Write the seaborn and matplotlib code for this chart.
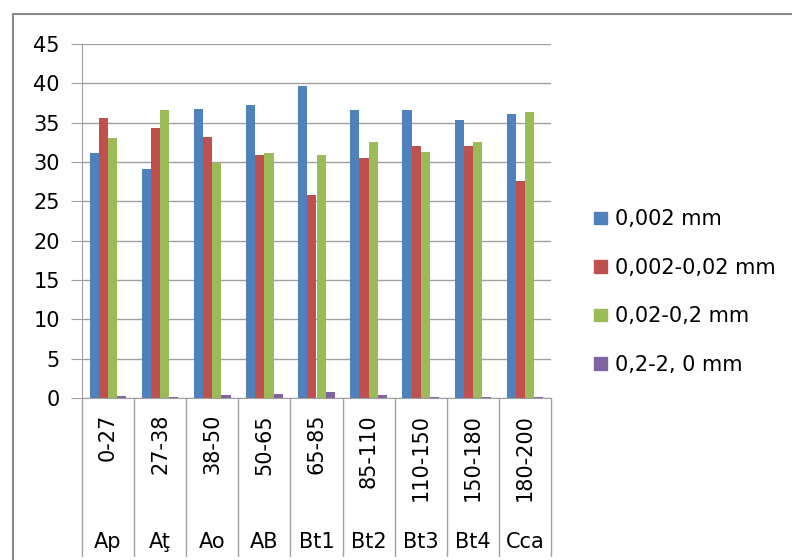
import pandas as pd
import matplotlib
matplotlib.use("Agg")
import matplotlib.pyplot as plt
import seaborn as sns

# data
depths = ['0-27', '27-38', '38-50', '50-65', '65-85', '85-110', '110-150', '150-180', '180-200']
horizons = ['Ap', 'Aţ', 'Ao', 'AB', 'Bt1', 'Bt2', 'Bt3', 'Bt4', 'Cca']
fractions = ['0,002 mm', '0,002-0,02 mm', '0,02-0,2 mm', '0,2-2, 0 mm']

clay = [31.2, 29.1, 36.7, 37.3, 39.6, 36.6, 36.6, 35.4, 36.1]
silt = [35.6, 34.3, 33.2, 30.9, 25.8, 30.5, 32.0, 32.0, 27.6]
sand = [33.0, 36.6, 29.9, 31.2, 30.9, 32.5, 31.3, 32.6, 36.4]
coarse = [0.2, 0.15, 0.35, 0.5, 0.7, 0.35, 0.15, 0.1, 0.15]

colors = ['#4F81BD', '#C0504D', '#9BBB59', '#8064A2']

rows = []
for frac, vals in zip(fractions, [clay, silt, sand, coarse]):
    for d, v in zip(depths, vals):
        rows.append({'depth': d, 'fraction': frac, 'value': v})
df = pd.DataFrame(rows)

sns.set_style("white")
plt.rcParams['font.family'] = ['DejaVu Sans']
plt.rcParams['text.color'] = 'black'
plt.rcParams['ytick.labelcolor'] = 'black'
FS = 15

fig = plt.figure(figsize=(7.92, 5.6), dpi=100)
ax = fig.add_axes([82/792, 1-398/560, (551-82)/792, (398-44)/560])

sns.barplot(data=df, x='depth', y='value', hue='fraction', hue_order=fractions,
            order=depths, palette=colors, width=0.7, saturation=1, ax=ax,
            errorbar=None, linewidth=0)

ax.set_xlim(-0.5, len(depths)-0.5)
ax.set_ylim(0, 45)
ax.set_yticks(range(0, 46, 5))
ax.yaxis.grid(True, color='#a0a0a0', linewidth=1)
ax.set_axisbelow(True)
for s in ['top', 'right']:
    ax.spines[s].set_visible(False)
ax.spines['left'].set_color('#a0a0a0')
ax.spines['bottom'].set_color('#a0a0a0')
ax.tick_params(axis='y', left=True, length=8, color='#a0a0a0', labelsize=FS,
               labelcolor='black', pad=8)
ax.set_xticks([])
ax.set_xlabel('')
ax.set_ylabel('')

# two-level category axis
trans = ax.get_xaxis_transform()
for i in range(len(depths) + 1):
    ax.plot([i-0.5, i-0.5], [0, -158/354], transform=trans, color='#a0a0a0',
            linewidth=1, clip_on=False)
for i, (d, h) in enumerate(zip(depths, horizons)):
    ax.text(i, -16/354, d, transform=trans, rotation=90, ha='center', va='top',
            fontsize=FS, color='black')
    ax.text(i, -144/354, h, transform=trans, ha='center', va='center',
            fontsize=FS, color='black')

ax.get_legend().remove()
handles = [plt.Rectangle((0, 0), 1, 1, color=c) for c in colors]
fig.legend(handles, fractions, loc='center left', bbox_to_anchor=(594/792, 1-292/560),
           frameon=False, fontsize=FS, handlelength=0.6, handleheight=0.55,
           handletextpad=0.4, labelspacing=1.37, borderpad=0, borderaxespad=0,
           labelcolor='black')

# chart frame
fig.add_artist(plt.Line2D([13/792, 13/792], [0, 1-14/560], color='#878787', linewidth=1.5))
fig.add_artist(plt.Line2D([13/792, 1], [1-14/560, 1-14/560], color='#878787', linewidth=1.5))

fig.savefig('out.png', dpi=100)
